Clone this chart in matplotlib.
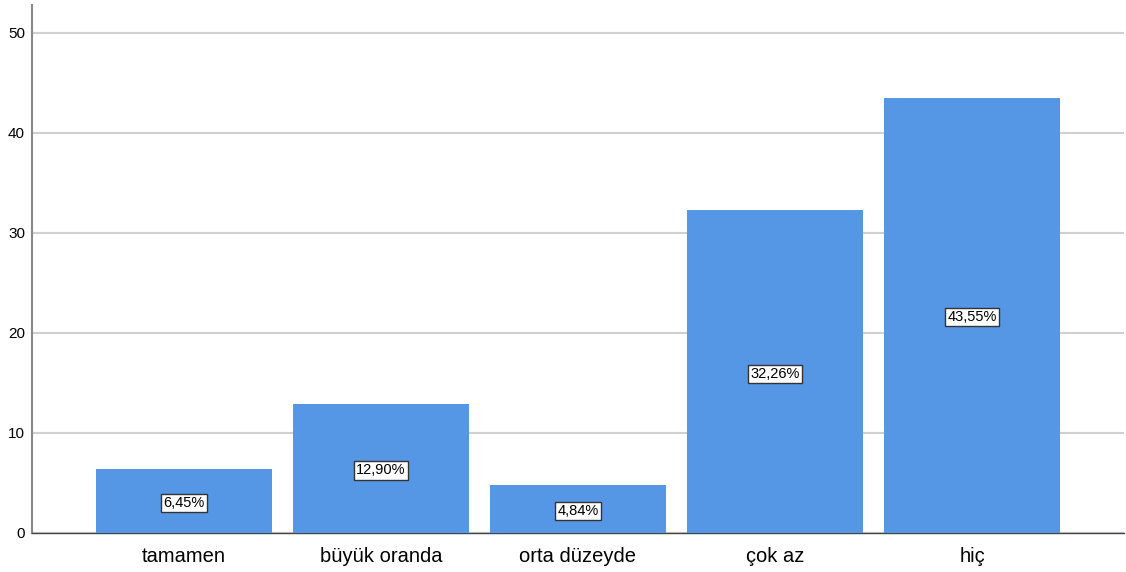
import matplotlib
matplotlib.use("Agg")
import matplotlib.pyplot as plt

categories = ["tamamen", "büyük oranda", "orta düzeyde", "çok az", "hiç"]
values = [6.45, 12.90, 4.84, 32.26, 43.55]
labels = ["6,45%", "12,90%", "4,84%", "32,26%", "43,55%"]
yticks = [0, 10, 20, 30, 40, 50]

plt.rcParams['font.family'] = ['Liberation Sans', 'DejaVu Sans']
fig = plt.figure(figsize=(11.26, 5.72), dpi=100)
ax = fig.add_axes([32/1126, (572-533)/572, (1124-32)/1126, (533-5)/572])

x = list(range(len(categories)))
ax.bar(x, values, width=0.893, color="#5596E5", zorder=3)
for xi, v, lab in zip(x, values, labels):
    ax.text(xi, v/2 - 0.2, lab, ha="center", va="center", fontsize=10.5, zorder=4,
            bbox=dict(boxstyle="square,pad=0.15", fc="white", ec="#333333", lw=1))

ax.set_ylim(0, 52.8)
ax.set_xlim(-0.772, 4.772)
ax.set_yticks(yticks)
ax.set_xticks(x)
ax.set_xticklabels(categories, fontsize=14.5)
ax.tick_params(axis='y', labelsize=11, length=0, pad=5)
ax.tick_params(axis='x', length=0, pad=10)
ax.yaxis.grid(True, color="#d0d0d0", lw=1.5, zorder=0)
for s in ["top", "right"]:
    ax.spines[s].set_visible(False)
ax.spines["left"].set_color("#888888")
ax.spines["left"].set_linewidth(1.5)
ax.spines["bottom"].set_color("#444444")
ax.spines["bottom"].set_linewidth(1)

fig.savefig("out.png", dpi=100)
